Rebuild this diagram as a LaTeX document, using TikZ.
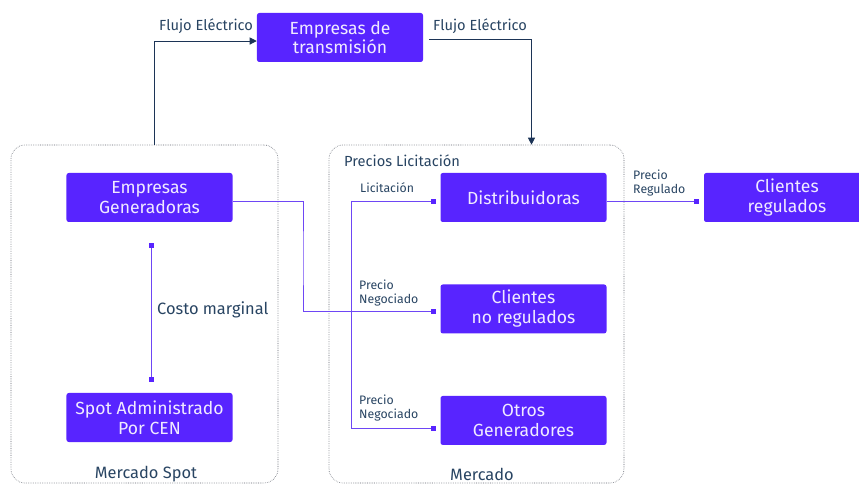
\documentclass[tikz,border=0pt]{standalone}
\usepackage{fontspec}
\setmainfont{Fira Sans}
\usetikzlibrary{positioning, arrows.meta, calc}

\definecolor{boxc}{RGB}{88,36,255}
\definecolor{boxtxt}{RGB}{240,234,255}
\definecolor{linkc}{RGB}{110,70,245}
\definecolor{labc}{RGB}{40,68,98}
\definecolor{flowc}{RGB}{28,52,86}
\definecolor{framec}{RGB}{95,100,110}

\begin{document}
\begin{tikzpicture}[x=0.03cm,y=-0.03cm,node distance=1.86cm,
    actor/.style={rectangle,rounded corners=2pt,fill=boxc,text=boxtxt,align=center,
      minimum width=4.98cm,minimum height=1.47cm,inner sep=2pt,
      font=\fontsize{15}{17}\selectfont},
    market/.style={draw=framec,densely dotted,line width=0.5pt,rounded corners=12pt,minimum width=#1,minimum height=10.14cm},
    lab/.style={text=labc,font=\fontsize{12.5}{14}\selectfont,inner sep=0pt},
    big/.style={text=labc,font=\fontsize{14}{16}\selectfont,inner sep=0pt},
    small/.style={text=labc,font=\fontsize{10.5}{12.5}\selectfont,align=left,inner sep=0pt},
    flow/.style={draw=flowc,line width=0.8pt,-{Triangle[length=6pt,width=6pt]}},
    link/.style={draw=linkc,line width=0.7pt},
    sq/.style={-{Square[length=4pt,width=4pt,color=boxc]},shorten >=4pt}]
  \useasboundingbox (0,0) rectangle (859,485);

  % mercados
  \node[market=8.01cm] (mspot) at (144.5,314) {};
  \node[market=8.85cm] (mkt) at (476.5,314) {};

  % empresas
  \node[actor] (trans) at (340,37.5) {Empresas de\\transmisión};
  \node[actor] (gen) at (149.5,197.5) {Empresas\\Generadoras};
  \node[actor] (spot) at (149.5,417.5) {Spot Administrado\\Por CEN};
  \node[actor] (dist) at (523.5,197.5) {Distribuidoras};
  \node[actor] (cnr) [below=of dist] {Clientes\\no regulados};
  \node[actor] (otros) [below=of cnr] {Otros\\Generadores};
  \node[actor] (creg) at (787,197.5) {Clientes\\regulados};

  % textos
  \node[lab,anchor=west] (fl1) at (159,26) {Flujo Eléctrico};
  \node[lab,anchor=west] (fl2) at (433,26) {Flujo Eléctrico};
  \node[lab,anchor=west] (preclic) at (344,161) {Precios Licitación};
  \node[big,anchor=west] (cmarg) at (157,310) {Costo marginal};
  \node[big] (ms) at (146,474) {Mercado Spot};
  \node[big] (mm) at (482,474) {Mercado};
  \node[small,anchor=west] (lic) at (360,188) {Licitación};
  \node[small,anchor=west] (pn1) at (359,293) {Precio\\Negociado};
  \node[small,anchor=west] (pn2) at (359,408) {Precio\\Negociado};
  \node[small,anchor=west] (pr) at (633,183) {Precio\\Regulado};

  % flujo electrico
  \coordinate (f1) at (mspot.north -| 154,0);
  \coordinate (f2) at ($(mkt.north)+(55,0)$);
  \draw[flow] (f1) |- ([yshift=-3pt]trans.west);
  \draw[flow,shorten <=5pt] ([yshift=-1.3pt]trans.east) -| (f2);

  % precios
  \coordinate (g0) at ([yshift=-3.5pt]gen.east);
  \coordinate (g1) at (303,260);
  \coordinate (v1) at (351,201);
  \coordinate (v2) at (351,428);
  \coordinate (cm1) at (151,243);
  \coordinate (cm2) at (151,382);
  \draw[link,sq] (g0) -| (g1) |- ([yshift=-2pt]cnr.west);
  \draw[link,sq] (v1) -- (dist.west |- v1);
  \draw[link] (v1) -- (v2);
  \draw[link,sq] (v2) -- (otros.west |- v2);
  \draw[link,sq] ([yshift=-3pt]dist.east) -- ([yshift=-3pt]creg.west);
  \draw[link,{Square[length=4pt,width=4pt,color=boxc]}-{Square[length=4pt,width=4pt,color=boxc]}] (cm1) -- (cm2);
\end{tikzpicture}
\end{document}
